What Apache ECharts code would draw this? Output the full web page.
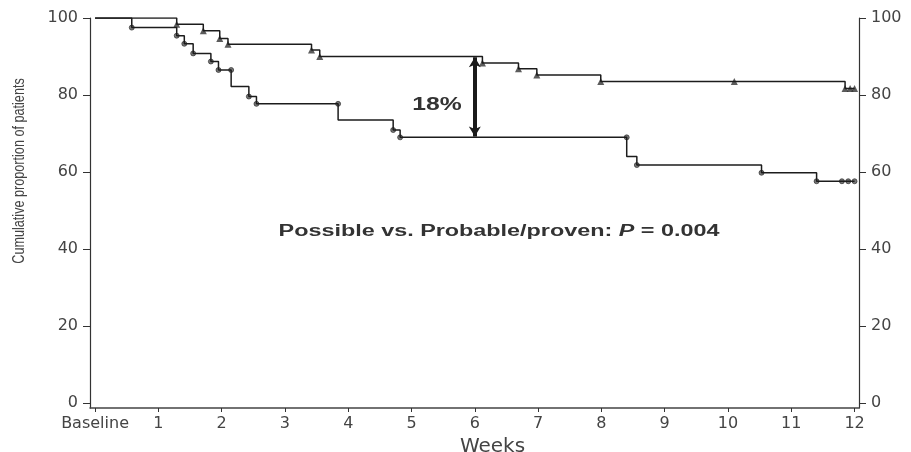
<!DOCTYPE html>
<html>
<head>
<meta charset="utf-8">
<script src="https://cdn.jsdelivr.net/npm/echarts@6/dist/echarts.min.js"></script>
<style>
  html, body { margin: 0; padding: 0; background: #fff; }
  #chart { width: 911px; height: 452px; }
</style>
</head>
<body>
<div id="chart"></div>
<script>
// weeks ticks and labels
const weekTicks = [0, 1, 2, 3, 4, 5, 6, 7, 8, 9, 10, 11, 12];
const weekLabels = ['Baseline', '1', '2', '3', '4', '5', '6', '7', '8', '9', '10', '11', '12'];
const pctTicks = [0, 20, 40, 60, 80, 100];

// upper curve (triangles): [week, cumulative %]
const upperSteps = [
  [0, 100], [1.29, 98.4], [1.71, 96.7], [1.97, 94.7], [2.1, 93.2],
  [3.42, 91.7], [3.55, 90.0], [6.12, 88.3], [6.69, 86.8], [6.98, 85.2],
  [7.99, 83.5], [11.85, 81.7], [12, 81.7]
];
const upperMarks = [
  [1.29, 98.4], [1.71, 96.7], [1.97, 94.7], [2.1, 93.2], [3.42, 91.7],
  [3.55, 90.0], [6.12, 88.3], [6.69, 86.8], [6.98, 85.2], [7.99, 83.5],
  [10.1, 83.5], [11.85, 81.7], [11.93, 81.7], [12, 81.7]
];

// lower curve (circles)
const lowerSteps = [
  [0, 100], [0.58, 97.5], [1.29, 95.4], [1.41, 93.3], [1.55, 90.8],
  [1.83, 88.7], [1.95, 86.5], [2.15, 82.2], [2.43, 79.6], [2.55, 77.7],
  [3.84, 73.5], [4.71, 70.9], [4.82, 69.0], [8.40, 64.0], [8.56, 61.8],
  [10.53, 59.8], [11.40, 57.6], [12, 57.6]
];
const lowerMarks = [
  [0.58, 97.5], [1.29, 95.4], [1.41, 93.3], [1.55, 90.8], [1.83, 88.7],
  [1.95, 86.5], [2.15, 86.5], [2.43, 79.6], [2.55, 77.7], [3.84, 77.7],
  [4.71, 70.9], [4.82, 69.0], [8.40, 69.0], [8.56, 61.8], [10.53, 59.8],
  [11.40, 57.6], [11.8, 57.6], [11.9, 57.6], [12, 57.6]
];

// the 18% gap at week 6
const gapWeek = 6;
const gapTop = 89.8;
const gapBottom = 69.2;

const chart = echarts.init(document.getElementById('chart'), null, { renderer: 'canvas' });

const txt = '#444';
const line = '#1c1c1c';
const font = '"DejaVu Sans", Arial';

const yAxisBase = {
  type: 'value', min: -1.3, max: 100,
  axisLine: { show: true, onZero: false, lineStyle: { color: '#333', width: 1.2 } },
  axisTick: { show: true, length: 7, customValues: pctTicks, lineStyle: { color: '#333' } },
  axisLabel: { customValues: pctTicks, color: txt, fontSize: 16, fontFamily: font, margin: 12 },
  splitLine: { show: false }
};

chart.setOption({
  animation: false,
  grid: { left: 90, right: 52, top: 18, bottom: 44, containLabel: false, outerBoundsMode: 'none' },
  xAxis: {
    type: 'value', min: -0.08, max: 12.07,
    name: 'Weeks', nameLocation: 'middle', nameGap: 15,
    nameTextStyle: { color: txt, fontSize: 20, fontFamily: font, padding: [0, 0, 0, 36] },
    axisLine: { show: true, onZero: false, lineStyle: { color: '#444', width: 1.5 } },
    axisTick: { show: true, length: 4, customValues: weekTicks, lineStyle: { color: '#333' } },
    axisLabel: {
      customValues: weekTicks, color: txt, fontSize: 16, fontFamily: font, margin: 8,
      formatter: v => weekLabels[weekTicks.indexOf(Math.round(v))]
    },
    splitLine: { show: false }
  },
  yAxis: [
    Object.assign({}, yAxisBase, { position: 'left' }),
    Object.assign({}, yAxisBase, {
      position: 'right',
      axisLabel: Object.assign({}, yAxisBase.axisLabel, { margin: 12 })
    })
  ],
  series: [
    {
      type: 'line', step: 'end', data: upperSteps, showSymbol: false,
      lineStyle: { color: line, width: 1.5 }, silent: true
    },
    {
      type: 'line', step: 'end', data: lowerSteps, showSymbol: false,
      lineStyle: { color: line, width: 1.5 }, silent: true,
      markLine: {
        silent: true,
        symbol: ['arrow', 'arrow'], symbolSize: [9, 10],
        label: { show: false },
        lineStyle: { color: '#1a1a1a', width: 4, type: 'solid' },
        data: [[{ coord: [gapWeek, gapTop] }, { coord: [gapWeek, gapBottom] }]]
      }
    },
    {
      type: 'scatter', data: upperMarks, symbol: 'triangle', symbolSize: 7,
      itemStyle: { color: '#333' }, silent: true
    },
    {
      type: 'scatter', data: lowerMarks, symbol: 'circle', symbolSize: 5,
      itemStyle: { color: '#555', borderColor: '#222', borderWidth: 0.8 }, silent: true
    }
  ],
  graphic: [
    {
      type: 'text', x: 20, y: 171, rotation: Math.PI / 2, scaleX: 0.79,
      style: {
        text: 'Cumulative proportion of patients', fill: txt, align: 'center', verticalAlign: 'middle',
        font: '16px "Liberation Sans", Arial'
      }
    },
    {
      type: 'text', x: 437, y: 105, scaleX: 1.3,
      style: { text: '18%', fill: '#333', font: 'bold 19px "Liberation Sans", Arial', align: 'center', verticalAlign: 'middle' }
    },
    {
      type: 'text', x: 499, y: 232, scaleX: 1.46,
      style: {
        text: '{a|Possible vs. Probable/proven: }{b|P}{a| = 0.004}', align: 'center', verticalAlign: 'middle',
        rich: {
          a: { fill: '#333', font: 'bold 16px "Liberation Sans", Arial' },
          b: { fill: '#333', font: 'italic bold 16px "Liberation Sans", Arial' }
        }
      }
    }
  ]
});
</script>
</body>
</html>
